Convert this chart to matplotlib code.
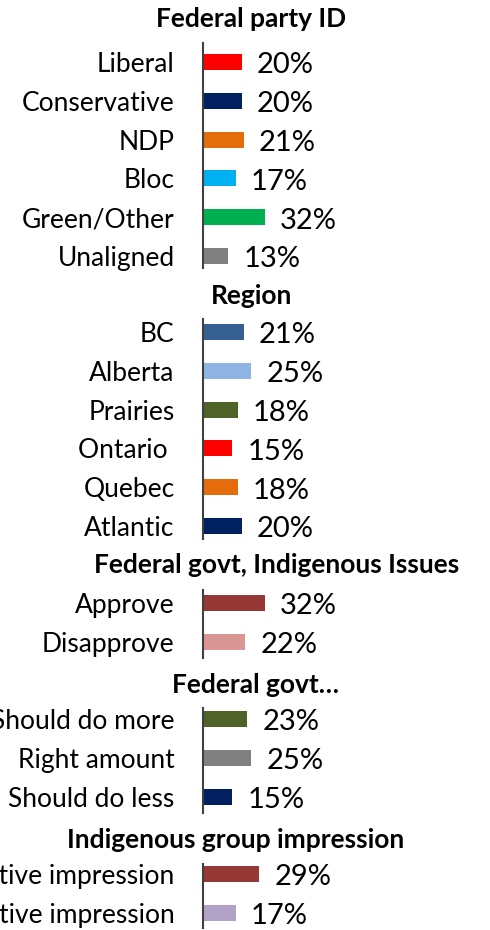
from matplotlib import pyplot as plt

plt.rcParams['font.family'] = ['Lato', 'DejaVu Sans']

# data
party_labels = ['Liberal', 'Conservative', 'NDP', 'Bloc', 'Green/Other', 'Unaligned']
party_values = [20, 20, 21, 17, 32, 13]
party_colors = ['#FF0000', '#002060', '#E46C0A', '#00B0F0', '#00B050', '#808080']

region_labels = ['BC', 'Alberta', 'Prairies', 'Ontario ', 'Quebec', 'Atlantic']
region_values = [21, 25, 18, 15, 18, 20]
region_colors = ['#376092', '#8EB4E3', '#4F6228', '#FF0000', '#E46C0A', '#002060']

approve_labels = ['Approve', 'Disapprove']
approve_values = [32, 22]
approve_colors = ['#953735', '#D99694']

govt_labels = ['Should do more', 'Right amount', 'Should do less']
govt_values = [23, 25, 15]
govt_colors = ['#4F6228', '#808080', '#002060']

impr_labels = ['Positive impression', 'Negative impression']
impr_values = [29, 17]
impr_colors = ['#953735', '#B3A2C7']

W, H = 490, 930
fig = plt.figure(figsize=(W / 100, H / 100), dpi=100)

ROW = 38.8    # px between rows
AX_LEFT = 203
PX_PER_PCT = 1.93

# (title, title x, title y, labels, values, colors, line top, first row, line bottom)
sections = [
    ('Federal party ID', 251, 19, party_labels, party_values, party_colors, 43, 62, 268),
    ('Region', 252, 296, region_labels, region_values, region_colors, 319, 332, 539),
    ('Federal govt, Indigenous Issues', 277, 565, approve_labels, approve_values, approve_colors, 590, 603, 658),
    ('Federal govt…', 255, 685, govt_labels, govt_values, govt_colors, 708, 719, 813),
    ('Indigenous group impression', 236, 840, impr_labels, impr_values, impr_colors, 864, 874, 928),
]

for title, tx, ty, labels, values, colors, top, first, bottom in sections:
    ax = fig.add_axes([AX_LEFT / W, 1 - bottom / H, 100 * PX_PER_PCT / W, (bottom - top) / H])
    ax.set_facecolor('none')
    rows = list(range(len(labels)))
    ax.barh(rows, values, height=16 / ROW, color=colors)
    for r, v in zip(rows, values):
        ax.annotate(f'{v}%', xy=(v, r), xytext=(11, -2.5), textcoords='offset points',
                    ha='left', va='center', fontsize=21)
    ax.set_xlim(0, 100)
    ax.set_ylim((bottom - first) / ROW, (top - first) / ROW)
    ax.set_yticks(rows, labels, fontsize=19)
    ax.tick_params(axis='y', length=0, pad=20.5)
    ax.set_xticks([])
    for s in ['top', 'right', 'bottom']:
        ax.spines[s].set_visible(False)
    ax.spines['left'].set_linewidth(1.5)
    ax.spines['left'].set_color('#404040')
    fig.text(tx / W, 1 - ty / H, title, ha='center', va='center', fontsize=19, fontweight='bold')

fig.savefig('out.png', dpi=100)
